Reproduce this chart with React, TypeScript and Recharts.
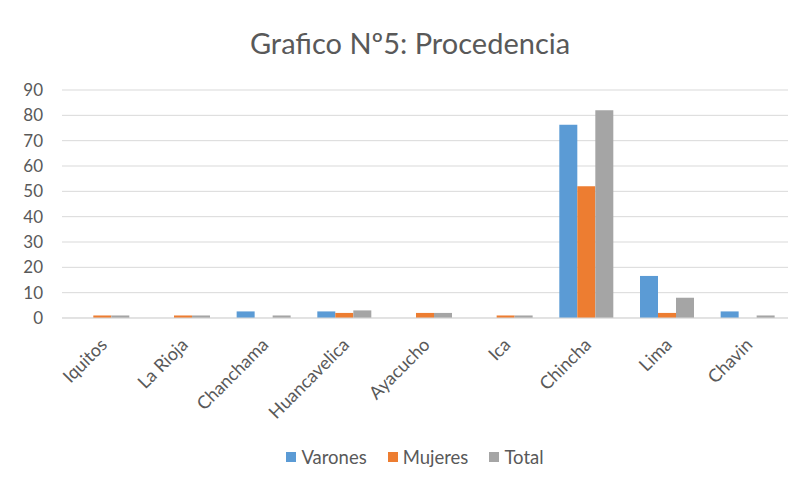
import { Bar, BarChart, CartesianGrid, Legend, XAxis, YAxis } from "recharts";

const lugares = ["Iquitos", "La Rioja", "Chanchama", "Huancavelica", "Ayacucho", "Ica", "Chincha", "Lima", "Chavin"];
const varones = [0, 0, 2.6, 2.6, 0, 0, 76.3, 16.6, 2.6];
const mujeres = [1, 1, 0, 2, 2, 1, 52, 2, 0];
const total = [1, 1, 1, 3, 2, 1, 82, 8, 1];
const yTicks = [0, 10, 20, 30, 40, 50, 60, 70, 80, 90];

const series = [
  { key: "Varones", color: "#5B9BD5" },
  { key: "Mujeres", color: "#ED7D31" },
  { key: "Total", color: "#A5A5A5" },
];

const data = lugares.map((lugar, i) => ({
  lugar,
  Varones: varones[i],
  Mujeres: mujeres[i],
  Total: total[i],
}));

const FONT = "Lato, 'Open Sans', sans-serif";
const TEXT = "#595959";

function RotatedTick(props: any) {
  const { x, y, payload } = props;
  const ax = x + 6;
  const ay = y + 20;
  return (
    <text
      x={ax}
      y={ay}
      transform={`rotate(-45 ${ax} ${ay})`}
      textAnchor="end"
      fill={TEXT}
      fontSize={18}
      fontFamily={FONT}
    >
      {payload.value}
    </text>
  );
}

// legend built from the fixed series list so the order stays Varones, Mujeres, Total
function LegendBox() {
  return (
    <div style={{ display: "flex", justifyContent: "center", gap: 21, fontFamily: FONT, fontSize: 18.5, color: TEXT }}>
      {series.map((s) => (
        <div key={s.key} style={{ display: "flex", alignItems: "center" }}>
          <span style={{ width: 10, height: 10, background: s.color, display: "inline-block", marginRight: 5 }} />
          {s.key}
        </div>
      ))}
    </div>
  );
}

export default function App() {
  return (
    <div style={{ position: "relative", width: 801, height: 486, margin: -8, overflow: "hidden", background: "#fff" }}>
      <div
        style={{
          position: "absolute",
          left: 7,
          top: 7,
          width: 830,
          height: 476,
          border: "1px solid #d9d9d9",
        }}
      />
      <div
        style={{
          position: "absolute",
          left: 0,
          top: 25,
          width: 820,
          textAlign: "center",
          fontFamily: FONT,
          fontSize: 29,
          color: TEXT,
        }}
      >
        Grafico Nº5: Procedencia
      </div>
      <div style={{ position: "absolute", left: 0, top: 0 }}>
        <BarChart
          width={801}
          height={486}
          data={data}
          margin={{ top: 90, right: 13, bottom: 38, left: 12 }}
          barCategoryGap="16.5%"
          barGap={0}
        >
          <CartesianGrid vertical={false} stroke="#d9d9d9" />
          <XAxis
            dataKey="lugar"
            interval={0}
            height={130}
            tickLine={false}
            axisLine={{ stroke: "#d9d9d9" }}
            tick={<RotatedTick />}
          />
          <YAxis
            width={50}
            domain={[0, 90]}
            ticks={yTicks}
            axisLine={false}
            tickLine={false}
            tickMargin={13}
            tick={{ fill: TEXT, fontSize: 17, fontFamily: FONT }}
          />
          <Legend
            verticalAlign="middle"
            align="center"
            layout="horizontal"
            wrapperStyle={{ top: 446, left: 0, width: 830 }}
            content={<LegendBox />}
          />
          {series.map((s) => (
            <Bar key={s.key} dataKey={s.key} fill={s.color} isAnimationActive={false} />
          ))}
        </BarChart>
      </div>
    </div>
  );
}
